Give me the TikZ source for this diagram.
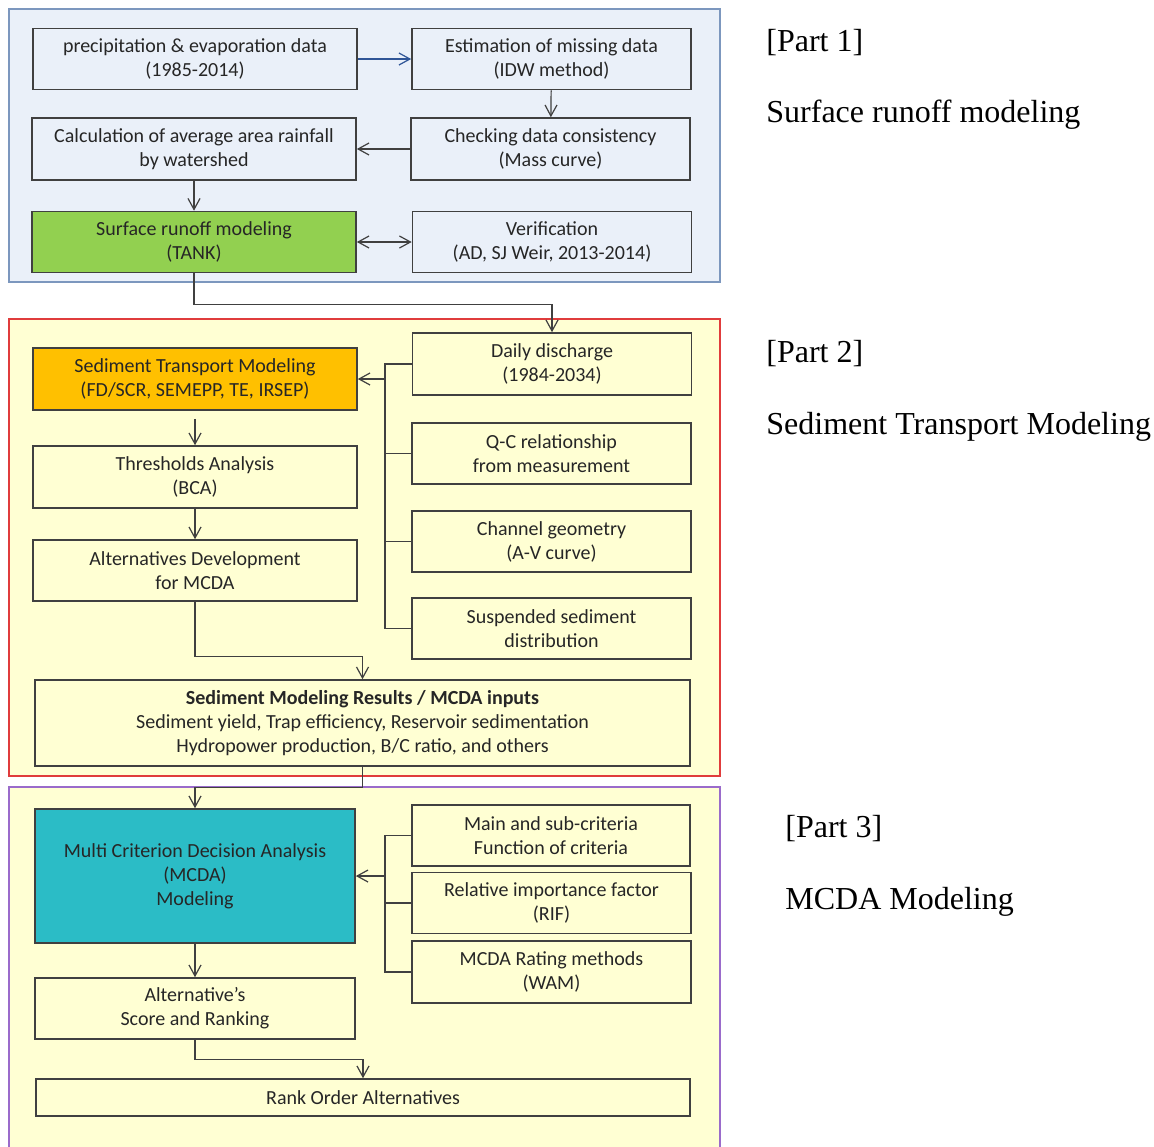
\documentclass[tikz,border=0pt]{standalone}
\usepackage{fontspec}
\setmainfont{Carlito}
\newfontfamily\partfont{Liberation Serif}
\usepackage{xcolor}
\usepackage{tikz}
\usetikzlibrary{positioning,arrows.meta,calc}
\definecolor{runoffbg}{HTML}{EAF0F9}
\definecolor{runoffline}{HTML}{7C97BE}
\definecolor{sedbg}{HTML}{FFFFD3}
\definecolor{sedline}{HTML}{E03C3C}
\definecolor{mcdaline}{HTML}{9A6BCB}
\definecolor{boxline}{HTML}{404040}
\definecolor{tankgreen}{HTML}{92D050}
\definecolor{sedorange}{HTML}{FFC000}
\definecolor{mcdateal}{HTML}{2BBCC6}
\definecolor{flowblue}{HTML}{2F5597}
\tikzset{
  box/.style={draw=boxline,line width=0.8pt,align=center,inner sep=2pt,
    font=\fontsize{10}{12}\selectfont,text=black!85,minimum height=30.5pt},
  leftbox/.style={box,minimum width=162pt},
  rightbox/.style={box,minimum width=139.5pt},
  widebox/.style={box,minimum width=327.5pt},
  arr/.style={-{Straight Barb[length=5.5pt,width=6pt]},line width=0.6pt,draw=boxline},
  link/.style={line width=0.6pt,draw=boxline},
  panel/.style={line width=0.9pt},
  partlabel/.style={anchor=base west,inner sep=0pt,
    font=\partfont\fontsize{16}{19}\selectfont}
}

\begin{document}
\begin{tikzpicture}[x=0.5pt,y=-0.5pt]
\useasboundingbox (0,0) rectangle (1154,1146);

% the three parts
\draw[panel,draw=runoffline,fill=runoffbg] (9,9) rectangle (720,282);
\draw[panel,draw=sedline,fill=sedbg] (9,319) rectangle (720,776);
\draw[panel,draw=mcdaline,fill=sedbg] (9,787) rectangle (720,1160);

% Part 1
\node[leftbox] (prec) at (195,59) {precipitation \& evaporation data\\(1985-2014)};
\node[rightbox] (est) at (551.5,59) {Estimation of missing data\\(IDW method)};
\node[leftbox,minimum height=31pt] (calc) at (194,149) {Calculation of average area rainfall\\by watershed};
\node[rightbox,minimum height=31pt] (check) at (550.5,149) {Checking data consistency\\(Mass curve)};
\node[leftbox,fill=tankgreen] (tank) at (194,242) {Surface runoff modeling\\(TANK)};
\node[rightbox] (verif) at (552,242) {Verification\\(AD, SJ Weir, 2013-2014)};

\draw[arr,draw=flowblue] (prec) -- (est);
\draw[arr] (est) -- (check);
\draw[arr] (check) -- (calc);
\draw[arr] (calc) -- (tank);
\draw[arr,{Straight Barb[length=5.5pt,width=6pt]}-{Straight Barb[length=5.5pt,width=6pt]}] (tank) -- (verif);

% Part 2
\node[rightbox,minimum height=31pt] (daily) at (552,364) {Daily discharge\\(1984-2034)};
\node[leftbox,minimum height=31pt,fill=sedorange] (sedmod) at (195,379) {Sediment Transport Modeling\\(FD/SCR, SEMEPP, TE, IRSEP)};
\node[rightbox] (qc) at (551.5,453.5) {Q-C relationship\\from measurement};
\node[rightbox] (chan) at (551.5,541.5) {Channel geometry\\(A-V curve)};
\node[rightbox] (susp) at (551.5,628.5) {Suspended sediment\\distribution};
\node[leftbox,minimum height=31pt] (thr) at (195,477) {Thresholds Analysis\\(BCA)};
\node[leftbox] (alt) at (195,570.5) {Alternatives Development\\for MCDA};
\node[widebox,minimum height=43pt] (res) at (362.5,723)
  {\textbf{Sediment Modeling Results / MCDA inputs}\\
   Sediment yield, Trap efficiency, Reservoir sedimentation\\
   Hydropower production, B/C ratio, and others};

\coordinate (sedbus) at (385,379);
\draw[arr] (tank.south) -- ++(0,31) -| (daily.north);
\draw[link] (daily.west) -- (daily.west -| sedbus) -- (susp.west -| sedbus) -- (susp.west);
\draw[link] (qc.west) -- (qc.west -| sedbus);
\draw[link] (chan.west) -- (chan.west -| sedbus);
\draw[arr] (sedbus) -- (sedmod.east);
\draw[arr,shorten <=4pt] (sedmod) -- (thr);
\draw[arr] (thr) -- (alt);
\draw[arr] (alt.south) -- ++(0,55) -| (res.north);

% Part 3
\node[box,minimum width=160pt,minimum height=67pt,fill=mcdateal] (mcda) at (195,876)
  {Multi Criterion Decision Analysis\\(MCDA)\\Modeling};
\node[rightbox,minimum width=139pt] (crit) at (551,835.5) {Main and sub-criteria\\Function of criteria};
\node[rightbox] (rif) at (551.5,903) {Relative importance factor\\(RIF)};
\node[rightbox,minimum height=31pt] (rating) at (551.5,972) {MCDA Rating methods\\(WAM)};
\node[box,minimum width=160pt] (score) at (195,1008.5) {Alternative’s\\Score and Ranking};
\node[box,minimum width=327pt,minimum height=18.5pt] (rank) at (363,1097.5) {Rank Order Alternatives};

\coordinate (mcdabus) at (385,876);
\draw[arr] (res.south) -- ++(0,21) -| (mcda.north);
\draw[link] (crit.west) -- (crit.west -| mcdabus) -- (rating.west -| mcdabus) -- (rating.west);
\draw[link] (rif.west) -- (rif.west -| mcdabus);
\draw[arr] (mcdabus) -- (mcda.east);
\draw[arr] (mcda) -- (score);
\draw[arr] (score.south) -- ++(0,20) -| (rank.north);

% labels beside the parts
\node[partlabel] (p1) at (766,51) {[Part 1]};
\node[partlabel] (p1t) at (766,122) {Surface runoff modeling};
\node[partlabel] (p2) at (766,362) {[Part 2]};
\node[partlabel] (p2t) at (766,434) {Sediment Transport Modeling};
\node[partlabel] (p3) at (785,837) {[Part 3]};
\node[partlabel] (p3t) at (785,909) {MCDA Modeling};
\end{tikzpicture}
\end{document}
